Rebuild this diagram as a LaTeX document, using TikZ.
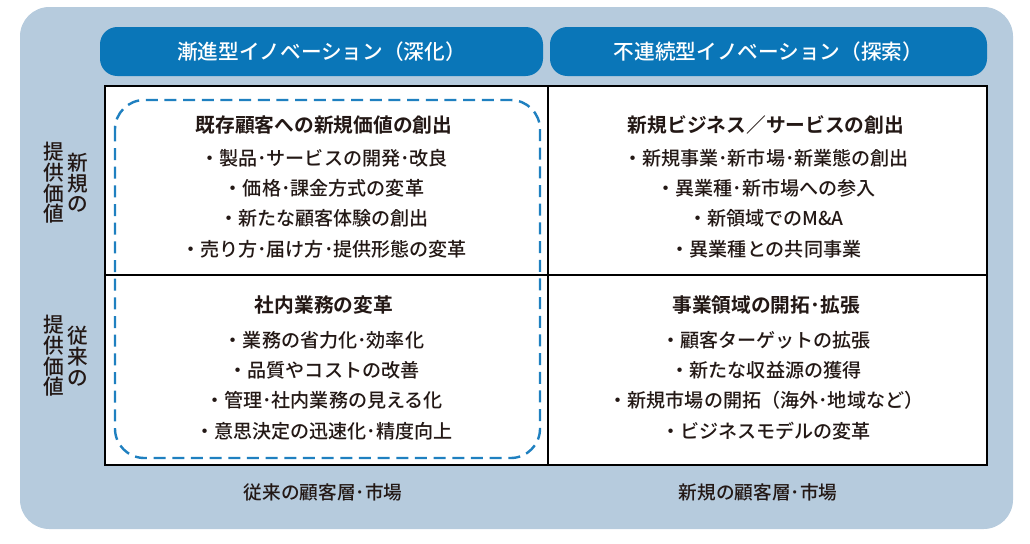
\documentclass[tikz,border=0pt]{standalone}
\usepackage{fontspec}
\setmainfont{Noto Sans CJK JP}[UprightFont=* Medium, BoldFont=* Bold]
\usetikzlibrary{positioning}
\definecolor{bgblue}{HTML}{B6CBDD}
\definecolor{headblue}{HTML}{0A76B8}
\definecolor{dashblue}{HTML}{1F80C0}
\definecolor{inkgray}{HTML}{231815}
\tikzset{
    panel/.style = {fill=bgblue, rounded corners=22pt},
    headbar/.style = {fill=headblue, rounded corners=13pt},
    headtext/.style = {text=white, font=\fontsize{15.5}{18}\selectfont},
    gridline/.style = {draw=black, line width=1.4pt},
    dashbox/.style = {draw=dashblue, line width=1.8pt, dash pattern=on 9pt off 5pt, rounded corners=22pt},
    celltitle/.style = {text=inkgray, font=\fontsize{14.8}{18}\selectfont\bfseries},
    cellitems/.style = {text=inkgray, align=center, font=\fontsize{14.3}{22.7}\selectfont},
    sidelabel/.style = {text=inkgray, align=center, inner sep=0pt, font=\fontsize{15.5}{15.5}\selectfont},
    axislabel/.style = {text=inkgray, font=\fontsize{14}{17}\selectfont}}
\begin{document}
\begin{tikzpicture}[x=0.75pt, y=-0.75pt]
    \useasboundingbox (0,0) rectangle (1030,543);
    \path[panel] (20,7) rectangle (1013,529);
    % column headers
    \path[headbar] (100,27) rectangle (543,76);
    \path[headbar] (550,27) rectangle (987,76);
    \node[headtext] (inchead) at (321.5,51.5) {漸進型イノベーション（深化）};
    \node[headtext] (dischead) at (768.5,51.5) {不連続型イノベーション（探索）};
    % matrix
    \draw[gridline, fill=white] (105,86) rectangle (987,465);
    \draw[gridline] (548,86) -- (548,465) (105,275) -- (987,275);
    \draw[dashbox] (115,100) rectangle (540,458);
    % cells
    \path (324,125) node[celltitle] (nvtitle) {既存顧客への新規価値の創出}
     ++ (0,78.5) node[cellitems] (nvitems) {・製品･サービスの開発･改良\\・価格･課金方式の変革\\・新たな顧客体験の創出\\・売り方･届け方･提供形態の変革};
    \path (766,125) node[celltitle] (nbtitle) {新規ビジネス／サービスの創出}
     ++ (0,78.5) node[cellitems] (nbitems) {・新規事業･新市場･新業態の創出\\・異業種･新市場への参入\\・新領域でのM\&A\\・異業種との共同事業};
    \path (324,305) node[celltitle] (optitle) {社内業務の変革}
     ++ (0,80.5) node[cellitems] (opitems) {・業務の省力化･効率化\\・品質やコストの改善\\・管理･社内業務の見える化\\・意思決定の迅速化･精度向上};
    \path (766,305) node[celltitle] (extitle) {事業領域の開拓･拡張}
     ++ (0,80.5) node[cellitems] (exitems) {・顧客ターゲットの拡張\\・新たな収益源の獲得\\・新規市場の開拓（海外･地域など）\\・ビジネスモデルの変革};
    % axis labels
    \node[sidelabel] (newval) at (78,183) {新\\規\\の};
    \node[sidelabel] (newval2) at (54,183) {提\\供\\価\\値};
    \node[sidelabel] (oldval) at (78,356) {従\\来\\の};
    \node[sidelabel] (oldval2) at (54,356) {提\\供\\価\\値};
    \node[axislabel] (oldmkt) at (323,492) {従来の顧客層･市場};
    \node[axislabel] (newmkt) at (758,492) {新規の顧客層･市場};
\end{tikzpicture}
\end{document}
